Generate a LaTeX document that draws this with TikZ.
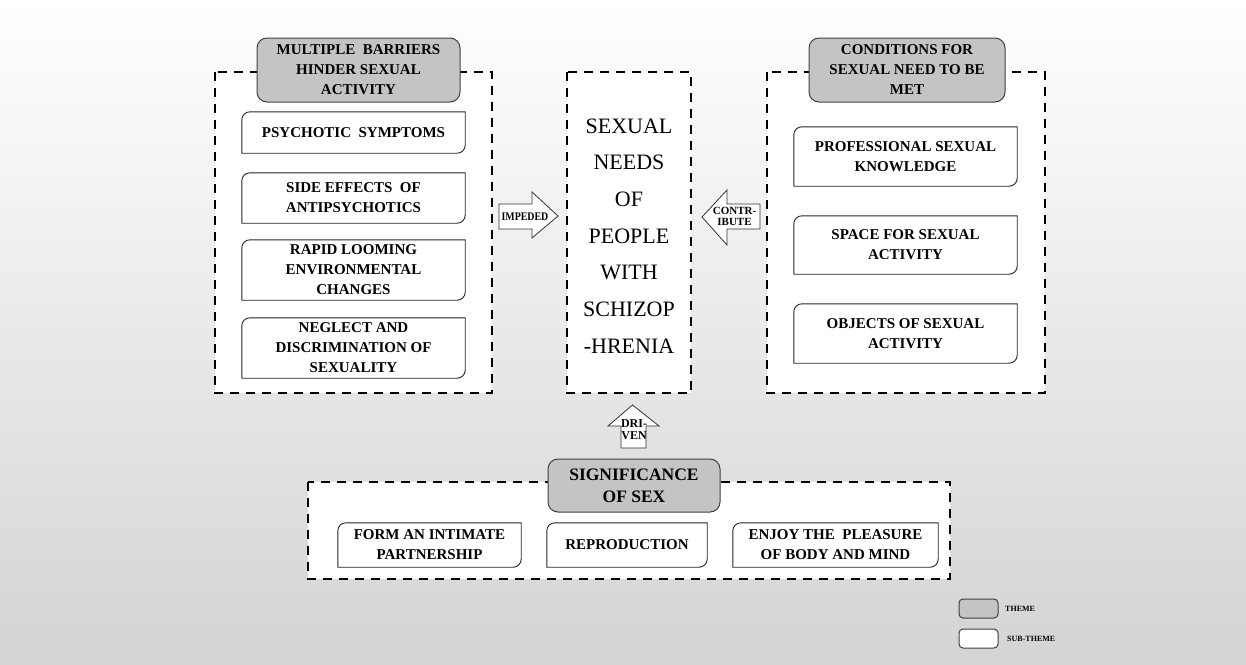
\documentclass[tikz,border=0pt]{standalone}
\usepackage{fontspec}
\setmainfont{Liberation Serif}
\newcommand\diagshape[1]{%
  \draw[subline] (#1.south west) -- ([yshift=-8pt]#1.north west)
    .. controls ([yshift=-3.6pt]#1.north west) and ([xshift=3.6pt]#1.north west) .. ([xshift=8pt]#1.north west)
    -- (#1.north east) -- ([yshift=8pt]#1.south east)
    .. controls ([yshift=3.6pt]#1.south east) and ([xshift=-3.6pt]#1.south east) .. ([xshift=-8pt]#1.south east)
    -- cycle;}
\begin{document}
\begin{tikzpicture}[x=1pt,y=-1pt,
  dashbox/.style={draw=black, line width=2.6pt, dash pattern=on 9pt off 7pt, fill=white},
  themebox/.style={draw=black!75, line width=1pt, fill=black!23, rounded corners=10pt, align=center,
    font=\bfseries\fontsize{15}{20}\selectfont, inner sep=0pt},
  subbox/.style={fill=white, inner sep=0pt, align=center, font=\bfseries\fontsize{15}{20}\selectfont},
  subline/.style={draw=black!85, line width=0.9pt},
  blockarrow/.style={draw=black!80, line width=0.8pt, fill=white},
  arrowtext/.style={font=\bfseries\fontsize{11}{10.5}\selectfont, align=center, inner sep=0pt},
  legendtext/.style={font=\bfseries\fontsize{8}{10}\selectfont, anchor=west, inner sep=0pt}
]
\useasboundingbox (0,0) rectangle (1246,664);
\shade[top color=white, bottom color=black!17] (0,0) rectangle (1246,664);

% dashed frames
\draw[dashbox] (215,72) rectangle (492,393);
\draw[dashbox] (567,72) rectangle (691,393);
\draw[dashbox] (767,72) rectangle (1045,393);
\draw[dashbox] (308,482) rectangle (950,579);

% left group
\node[themebox, minimum width=203pt, minimum height=64pt] (tleft) at (358.5,70)
  {MULTIPLE~~BARRIERS\\HINDER SEXUAL\\ACTIVITY};
\node[subbox, minimum width=223pt, minimum height=41pt] (psy) at (353.5,132.5) {PSYCHOTIC~~SYMPTOMS};
\node[subbox, minimum width=223pt, minimum height=50pt] (side) at (353.5,198) {SIDE EFFECTS~~OF\\ANTIPSYCHOTICS};
\node[subbox, minimum width=223pt, minimum height=60pt] (rapid) at (353.5,270) {RAPID LOOMING\\ENVIRONMENTAL\\CHANGES};
\node[subbox, minimum width=223pt, minimum height=60pt] (neglect) at (353.5,348) {NEGLECT AND\\DISCRIMINATION OF\\SEXUALITY};
\diagshape{psy}\diagshape{side}\diagshape{rapid}\diagshape{neglect}

% center
\node[align=center, inner sep=0pt, font=\fontsize{22}{36.7}\selectfont] (center) at (629,236)
  {SEXUAL\\NEEDS\\OF\\PEOPLE\\WITH\\SCHIZOP\\-HRENIA};

% right group
\node[themebox, minimum width=196pt, minimum height=64pt] (tright) at (907,70)
  {CONDITIONS FOR\\SEXUAL NEED TO BE\\MET};
\node[subbox, minimum width=223pt, minimum height=59pt] (prof) at (905.5,156.5) {PROFESSIONAL SEXUAL\\KNOWLEDGE};
\node[subbox, minimum width=223pt, minimum height=58pt] (space) at (905.5,245) {SPACE FOR SEXUAL\\ACTIVITY};
\node[subbox, minimum width=223pt, minimum height=59pt] (objects) at (905.5,333.5) {OBJECTS OF SEXUAL\\ACTIVITY};
\diagshape{prof}\diagshape{space}\diagshape{objects}

% bottom group
\node[themebox, minimum width=172pt, minimum height=53pt, font=\bfseries\fontsize{17.5}{22}\selectfont] (tbottom) at (634,485.5)
  {SIGNIFICANCE\\OF SEX};
\node[subbox, minimum width=183pt, minimum height=44pt] (form) at (429.5,545) {FORM AN INTIMATE\\PARTNERSHIP};
\node[subbox, minimum width=160pt, minimum height=44pt] (repro) at (627,545) {REPRODUCTION};
\node[subbox, minimum width=205pt, minimum height=44pt] (enjoy) at (835.5,545) {ENJOY THE~~PLEASURE\\OF BODY AND MIND};
\diagshape{form}\diagshape{repro}\diagshape{enjoy}

% block arrows
\draw[blockarrow] (499,204) -- (532,204) -- (532,192) -- (558,216) -- (532,238) -- (532,229) -- (499,229) -- cycle;
\node[arrowtext] (impeded) at (525,217) {\scalebox{0.9}[1.05]{IMPEDED}};

\draw[blockarrow] (760,204) -- (727,204) -- (727,190) -- (702,217) -- (727,245) -- (727,229) -- (760,229) -- cycle;
\node[arrowtext] (contribute) at (734.5,216.5) {CONTR-\\IBUTE};

\draw[blockarrow] (621,448) -- (621,426) -- (608,426) -- (632.5,405) -- (659,426) -- (646,426) -- (646,448) -- cycle;
\node[arrowtext, font=\bfseries\fontsize{12}{12}\selectfont] (driven) at (634,429.5) {DRI-\\VEN};

% legend
\node[draw=black!75, line width=1pt, fill=black!23, rounded corners=4pt, minimum width=39pt, minimum height=19pt, inner sep=0pt] (legtheme) at (978.5,608.5) {};
\node[draw=black!75, line width=1pt, fill=white, rounded corners=4pt, minimum width=39pt, minimum height=19pt, inner sep=0pt] (legsub) at (978.5,638.5) {};
\node[legendtext] (legthemetext) at (1005,609) {THEME};
\node[legendtext] (legsubtext) at (1007,639) {SUB-THEME};
\end{tikzpicture}
\end{document}
